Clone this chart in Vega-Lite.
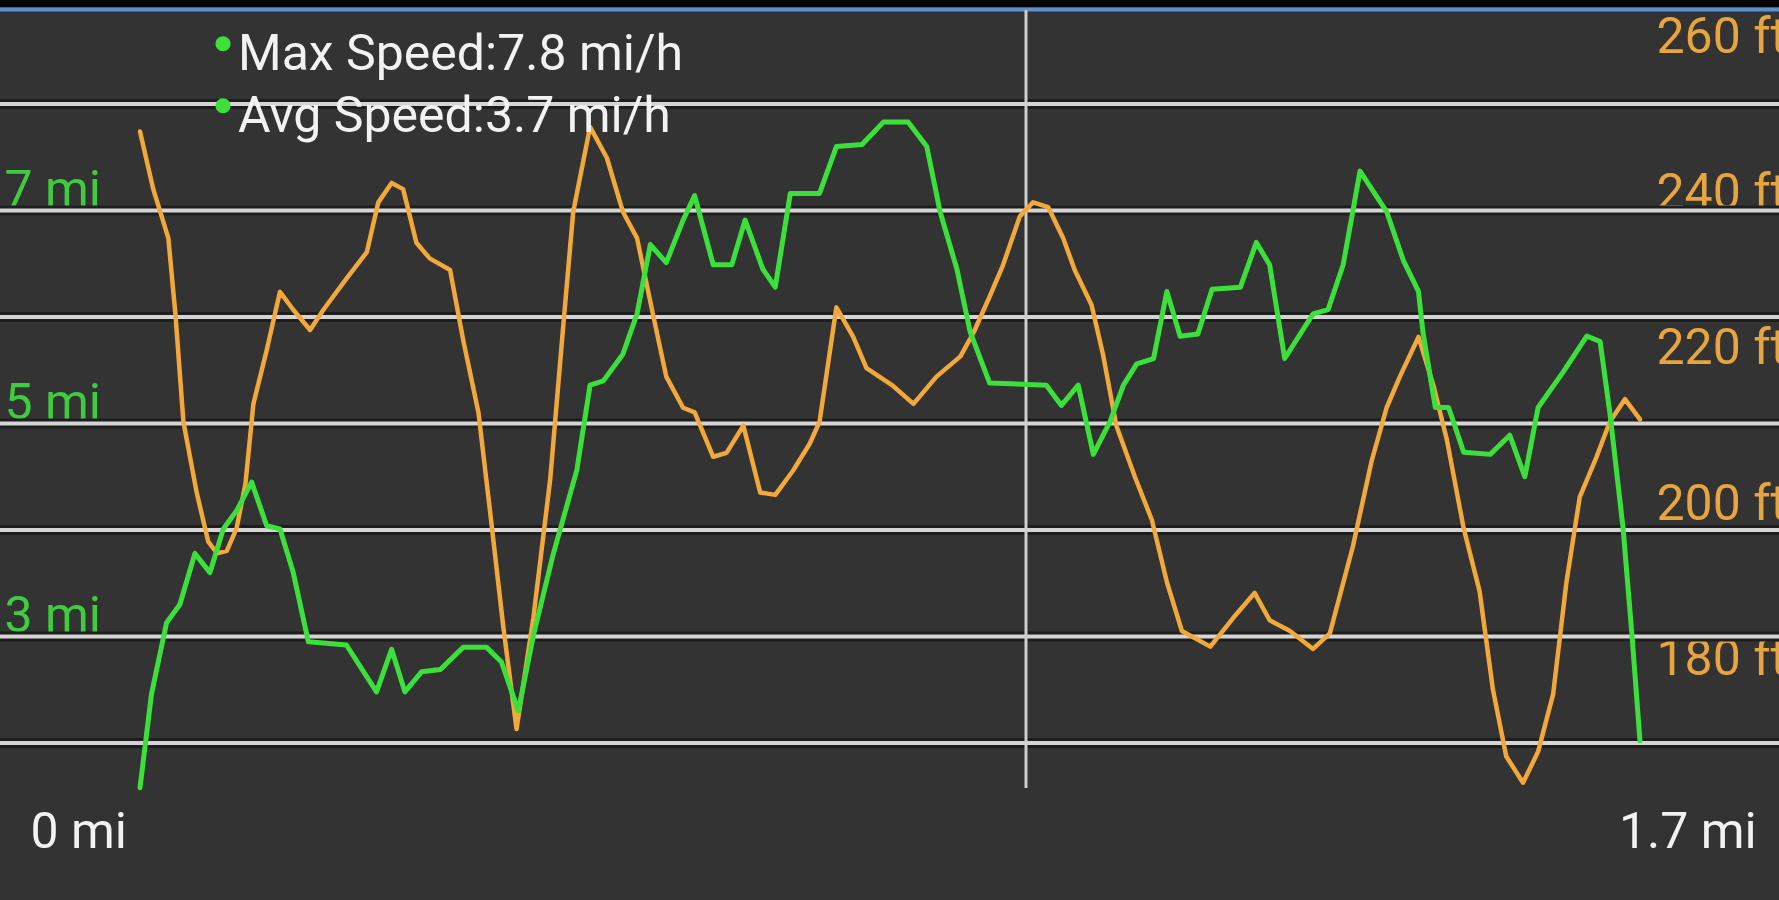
{
  "$schema": "https://vega.github.io/schema/vega-lite/v6.json",
  "width": 1779,
  "height": 900,
  "padding": 0,
  "autosize": {"type": "none"},
  "background": "#333333",
  "config": {
    "view": {"stroke": null},
    "font": "Roboto",
    "axisX": {
      "grid": false, "ticks": false, "tickSize": 0, "domain": false, "title": null,
      "labelPadding": -68, "labelBaseline": "middle",
      "labelFlush": 200, "labelFlushOffset": 110,
      "labelFont": "Roboto", "labelFontSize": 50, "labelColor": "#f2f2f2",
      "labelOverlap": false
    }
  },
  "datasets": {
    "speed": [
      {"dist": 0.000, "speed": 1.58}, {"dist": 0.013, "speed": 2.46}, {"dist": 0.030, "speed": 3.13}, {"dist": 0.045, "speed": 3.30},
      {"dist": 0.062, "speed": 3.78}, {"dist": 0.079, "speed": 3.60}, {"dist": 0.094, "speed": 4.01}, {"dist": 0.109, "speed": 4.18},
      {"dist": 0.126, "speed": 4.45}, {"dist": 0.143, "speed": 4.04}, {"dist": 0.158, "speed": 4.01}, {"dist": 0.173, "speed": 3.60},
      {"dist": 0.190, "speed": 2.95}, {"dist": 0.233, "speed": 2.92}, {"dist": 0.267, "speed": 2.48}, {"dist": 0.284, "speed": 2.88},
      {"dist": 0.299, "speed": 2.48}, {"dist": 0.318, "speed": 2.67}, {"dist": 0.339, "speed": 2.69}, {"dist": 0.365, "speed": 2.90},
      {"dist": 0.391, "speed": 2.90}, {"dist": 0.408, "speed": 2.76}, {"dist": 0.427, "speed": 2.30}, {"dist": 0.444, "speed": 3.01},
      {"dist": 0.466, "speed": 3.76}, {"dist": 0.493, "speed": 4.56}, {"dist": 0.508, "speed": 5.36}, {"dist": 0.523, "speed": 5.40},
      {"dist": 0.545, "speed": 5.65}, {"dist": 0.561, "speed": 6.03}, {"dist": 0.576, "speed": 6.68}, {"dist": 0.594, "speed": 6.51},
      {"dist": 0.613, "speed": 6.91}, {"dist": 0.626, "speed": 7.14}, {"dist": 0.647, "speed": 6.49}, {"dist": 0.668, "speed": 6.49},
      {"dist": 0.683, "speed": 6.91}, {"dist": 0.703, "speed": 6.45}, {"dist": 0.717, "speed": 6.28}, {"dist": 0.734, "speed": 7.16},
      {"dist": 0.767, "speed": 7.16}, {"dist": 0.786, "speed": 7.60}, {"dist": 0.815, "speed": 7.62}, {"dist": 0.839, "speed": 7.83},
      {"dist": 0.867, "speed": 7.83}, {"dist": 0.888, "speed": 7.60}, {"dist": 0.903, "speed": 6.99}, {"dist": 0.922, "speed": 6.45},
      {"dist": 0.937, "speed": 5.86}, {"dist": 0.959, "speed": 5.38}, {"dist": 1.023, "speed": 5.36}, {"dist": 1.040, "speed": 5.17},
      {"dist": 1.059, "speed": 5.36}, {"dist": 1.076, "speed": 4.71}, {"dist": 1.095, "speed": 5.02}, {"dist": 1.110, "speed": 5.36},
      {"dist": 1.125, "speed": 5.56}, {"dist": 1.144, "speed": 5.61}, {"dist": 1.159, "speed": 6.24}, {"dist": 1.174, "speed": 5.82},
      {"dist": 1.194, "speed": 5.84}, {"dist": 1.210, "speed": 6.26}, {"dist": 1.242, "speed": 6.28}, {"dist": 1.260, "speed": 6.70},
      {"dist": 1.275, "speed": 6.49}, {"dist": 1.292, "speed": 5.61}, {"dist": 1.324, "speed": 6.03}, {"dist": 1.341, "speed": 6.07},
      {"dist": 1.358, "speed": 6.49}, {"dist": 1.377, "speed": 7.37}, {"dist": 1.407, "speed": 6.99}, {"dist": 1.426, "speed": 6.53},
      {"dist": 1.443, "speed": 6.24}, {"dist": 1.448, "speed": 5.86}, {"dist": 1.462, "speed": 5.15}, {"dist": 1.477, "speed": 5.15},
      {"dist": 1.494, "speed": 4.73}, {"dist": 1.524, "speed": 4.71}, {"dist": 1.546, "speed": 4.89}, {"dist": 1.563, "speed": 4.50},
      {"dist": 1.578, "speed": 5.15}, {"dist": 1.606, "speed": 5.48}, {"dist": 1.633, "speed": 5.82}, {"dist": 1.648, "speed": 5.77},
      {"dist": 1.659, "speed": 5.10}, {"dist": 1.674, "speed": 4.01}, {"dist": 1.684, "speed": 3.01}, {"dist": 1.693, "speed": 2.02}
    ],
    "elevation": [
      {"dist": 0.000, "elev": 247.9}, {"dist": 0.015, "elev": 240.5}, {"dist": 0.032, "elev": 234.2}, {"dist": 0.040, "elev": 224.4},
      {"dist": 0.049, "elev": 210.6}, {"dist": 0.064, "elev": 201.5}, {"dist": 0.077, "elev": 195.2}, {"dist": 0.087, "elev": 193.7},
      {"dist": 0.098, "elev": 194.0}, {"dist": 0.109, "elev": 196.9}, {"dist": 0.119, "elev": 202.6}, {"dist": 0.128, "elev": 212.9},
      {"dist": 0.143, "elev": 219.8}, {"dist": 0.158, "elev": 227.3}, {"dist": 0.173, "elev": 225.0}, {"dist": 0.192, "elev": 222.4},
      {"dist": 0.207, "elev": 225.0}, {"dist": 0.233, "elev": 229.0}, {"dist": 0.256, "elev": 232.4}, {"dist": 0.269, "elev": 238.8},
      {"dist": 0.284, "elev": 241.3}, {"dist": 0.297, "elev": 240.5}, {"dist": 0.312, "elev": 233.6}, {"dist": 0.327, "elev": 231.6},
      {"dist": 0.350, "elev": 230.1}, {"dist": 0.365, "elev": 221.0}, {"dist": 0.382, "elev": 211.8}, {"dist": 0.395, "elev": 199.2},
      {"dist": 0.410, "elev": 184.3}, {"dist": 0.425, "elev": 171.1}, {"dist": 0.444, "elev": 185.4}, {"dist": 0.463, "elev": 203.2},
      {"dist": 0.478, "elev": 223.3}, {"dist": 0.489, "elev": 237.6}, {"dist": 0.508, "elev": 248.5}, {"dist": 0.527, "elev": 244.5},
      {"dist": 0.545, "elev": 237.6}, {"dist": 0.561, "elev": 234.2}, {"dist": 0.579, "elev": 224.4}, {"dist": 0.594, "elev": 216.4},
      {"dist": 0.613, "elev": 212.4}, {"dist": 0.626, "elev": 211.8}, {"dist": 0.647, "elev": 206.1}, {"dist": 0.662, "elev": 206.6},
      {"dist": 0.681, "elev": 210.1}, {"dist": 0.700, "elev": 201.5}, {"dist": 0.717, "elev": 201.2}, {"dist": 0.737, "elev": 204.3},
      {"dist": 0.756, "elev": 207.8}, {"dist": 0.767, "elev": 210.6}, {"dist": 0.786, "elev": 225.3}, {"dist": 0.805, "elev": 221.5},
      {"dist": 0.820, "elev": 217.5}, {"dist": 0.850, "elev": 215.2}, {"dist": 0.873, "elev": 212.9}, {"dist": 0.899, "elev": 216.4},
      {"dist": 0.926, "elev": 219.0}, {"dist": 0.941, "elev": 222.1}, {"dist": 0.959, "elev": 226.7}, {"dist": 0.974, "elev": 230.7},
      {"dist": 0.993, "elev": 237.0}, {"dist": 1.008, "elev": 238.8}, {"dist": 1.025, "elev": 238.2}, {"dist": 1.042, "elev": 234.2},
      {"dist": 1.055, "elev": 230.1}, {"dist": 1.074, "elev": 225.6}, {"dist": 1.087, "elev": 219.2}, {"dist": 1.102, "elev": 210.1},
      {"dist": 1.123, "elev": 203.5}, {"dist": 1.142, "elev": 198.0}, {"dist": 1.159, "elev": 190.0}, {"dist": 1.176, "elev": 183.7},
      {"dist": 1.208, "elev": 181.7}, {"dist": 1.234, "elev": 185.4}, {"dist": 1.258, "elev": 188.6}, {"dist": 1.275, "elev": 185.1},
      {"dist": 1.298, "elev": 183.7}, {"dist": 1.324, "elev": 181.4}, {"dist": 1.343, "elev": 183.4}, {"dist": 1.369, "elev": 194.6},
      {"dist": 1.390, "elev": 205.5}, {"dist": 1.407, "elev": 212.4}, {"dist": 1.422, "elev": 216.4}, {"dist": 1.443, "elev": 221.5},
      {"dist": 1.460, "elev": 215.2}, {"dist": 1.475, "elev": 208.3}, {"dist": 1.494, "elev": 196.9}, {"dist": 1.512, "elev": 188.8},
      {"dist": 1.527, "elev": 176.2}, {"dist": 1.542, "elev": 167.6}, {"dist": 1.561, "elev": 164.2}, {"dist": 1.578, "elev": 168.2},
      {"dist": 1.595, "elev": 175.6}, {"dist": 1.610, "elev": 190.0}, {"dist": 1.625, "elev": 200.9}, {"dist": 1.644, "elev": 206.1},
      {"dist": 1.659, "elev": 210.6}, {"dist": 1.676, "elev": 213.5}, {"dist": 1.693, "elev": 210.9}
    ],
    "grid": [{"speed": 2}, {"speed": 3}, {"speed": 4}, {"speed": 5}, {"speed": 6}, {"speed": 7}, {"speed": 8}],
    "marker": [{"dist": 1}],
    "stats": [{"stat": "Max Speed:7.8 mi/h"}, {"stat": "Avg Speed:3.7 mi/h"}]
  },
  "resolve": {"scale": {"y": "independent"}, "axis": {"y": "independent"}},
  "layer": [
    {
      "data": {"name": "marker"},
      "mark": {"type": "rect", "color": "#050505"},
      "encoding": {
        "x": {"datum": -0.2, "type": "quantitative", "scale": {"domain": [-0.158, 1.8499], "nice": false, "zero": false},
              "axis": {"orient": "bottom", "values": [0, 1.7], "labelExpr": "datum.value == 0 ? '0 mi' : '1.7 mi'"}},
        "x2": {"datum": 1.9},
        "y": {"datum": 9.8, "type": "quantitative", "scale": {"domain": [0.5258, 8.9765], "nice": false, "zero": false}, "axis": null},
        "y2": {"datum": 8.91}
      }
    },
    {
      "data": {"name": "marker"},
      "mark": {"type": "rule", "color": "#5d90cc", "strokeWidth": 4},
      "encoding": {
        "y": {"datum": 8.888, "type": "quantitative", "scale": {"domain": [0.5258, 8.9765], "nice": false, "zero": false}, "axis": null}
      }
    },
    {
      "data": {"name": "grid"},
      "mark": {"type": "rule", "color": "#1e1e1e", "strokeWidth": 10},
      "encoding": {
        "y": {"field": "speed", "type": "quantitative", "scale": {"domain": [0.5258, 8.9765], "nice": false, "zero": false}, "axis": null}
      }
    },
    {
      "data": {"name": "grid"},
      "mark": {"type": "rule", "color": "#d4d4d4", "strokeWidth": 4},
      "encoding": {
        "y": {"field": "speed", "type": "quantitative", "scale": {"domain": [0.5258, 8.9765], "nice": false, "zero": false}, "axis": null}
      }
    },
    {
      "data": {"name": "marker"},
      "mark": {"type": "rule", "color": "#cfcfcf", "strokeWidth": 3},
      "encoding": {
        "x": {"field": "dist", "type": "quantitative", "scale": {"domain": [-0.158, 1.8499], "nice": false, "zero": false},
              "axis": {"orient": "bottom", "values": [0, 1.7], "labelExpr": "datum.value == 0 ? '0 mi' : '1.7 mi'"}},
        "y": {"datum": 8.88, "type": "quantitative", "scale": {"domain": [0.5258, 8.9765], "nice": false, "zero": false}, "axis": null},
        "y2": {"datum": 1.578}
      }
    },
    {
      "data": {"name": "elevation"},
      "mark": {"type": "line", "color": "#f2a93a", "strokeWidth": 4.5, "strokeJoin": "round", "strokeCap": "round"},
      "encoding": {
        "x": {"field": "dist", "type": "quantitative", "scale": {"domain": [-0.158, 1.8499], "nice": false, "zero": false},
              "axis": {"orient": "bottom", "values": [0, 1.7], "labelExpr": "datum.value == 0 ? '0 mi' : '1.7 mi'"}},
        "y": {
          "field": "elev", "type": "quantitative",
          "scale": {"domain": [149.13, 264.81], "nice": false, "zero": false},
          "axis": {
            "orient": "right", "values": [180, 200, 220, 240, 260], "labelExpr": "datum.value + ' ft'",
            "grid": false, "ticks": false, "tickSize": 0, "domain": false, "title": null,
            "labelAlign": "left", "labelPadding": -123, "labelBaseline": "middle",
            "labelFont": "Roboto", "labelFontSize": 50, "labelColor": "#e8a53e",
            "labelFlush": false, "labelOverlap": false
          }
        }
      }
    },
    {
      "data": {"name": "speed"},
      "mark": {"type": "line", "color": "#3be03b", "strokeWidth": 5, "strokeJoin": "round", "strokeCap": "round"},
      "encoding": {
        "x": {"field": "dist", "type": "quantitative", "scale": {"domain": [-0.158, 1.8499], "nice": false, "zero": false},
              "axis": {"orient": "bottom", "values": [0, 1.7], "labelExpr": "datum.value == 0 ? '0 mi' : '1.7 mi'"}},
        "y": {
          "field": "speed", "type": "quantitative",
          "scale": {"domain": [0.5258, 8.9765], "nice": false, "zero": false},
          "axis": {
            "orient": "left", "values": [3, 5, 7], "labelExpr": "datum.value + ' mi'",
            "grid": false, "ticks": false, "tickSize": 0, "domain": false, "title": null,
            "labelAlign": "left", "labelPadding": -4, "labelBaseline": "alphabetic", "labelOffset": -5,
            "labelFont": "Roboto", "labelFontSize": 50, "labelColor": "#3fcc3f",
            "labelFlush": false, "labelOverlap": false
          }
        }
      }
    },
    {
      "data": {"name": "stats"},
      "mark": {"type": "point", "filled": true, "opacity": 0},
      "encoding": {
        "color": {
          "field": "stat", "type": "nominal",
          "scale": {"domain": ["Max Speed:7.8 mi/h", "Avg Speed:3.7 mi/h"], "range": ["#3be03b", "#3be03b"]},
          "legend": {
            "orient": "none", "legendX": 198, "legendY": 30, "title": null, "direction": "vertical", "padding": 0,
            "labelFont": "Roboto", "labelFontSize": 50, "labelColor": "#f2f2f2", "labelLimit": 2000, "labelOffset": -10,
            "rowPadding": 12,
            "symbolType": "M-1,-1.5A1,1,0,1,1,1,-1.5A1,1,0,1,1,-1,-1.5Z",
            "symbolSize": 225, "symbolOpacity": 1, "symbolStrokeWidth": 0
          }
        }
      }
    }
  ]
}
